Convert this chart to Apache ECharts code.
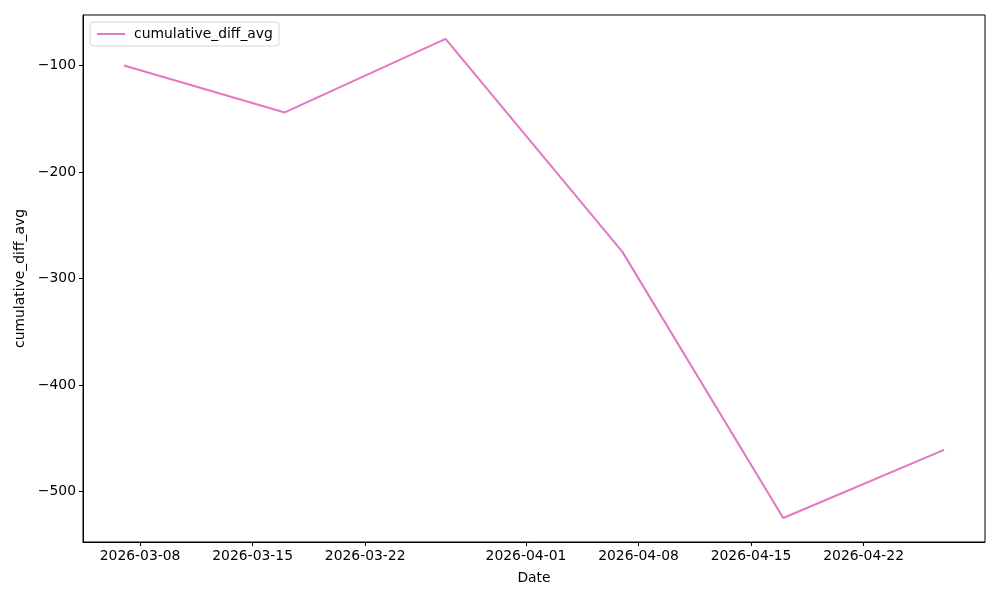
<!DOCTYPE html>
<html>
<head>
<meta charset="utf-8">
<script src="https://cdn.jsdelivr.net/npm/echarts@6/dist/echarts.min.js"></script>
<style>html,body{margin:0;padding:0;background:#fff;}#c{width:1000px;height:600px;}</style>
</head>
<body>
<div id="c"></div>
<script>
var dates = ['2026-03-07', '2026-03-17', '2026-03-27', '2026-04-07', '2026-04-17', '2026-04-27'];
var values = [-100, -144, -75, -275, -525, -461];
var xTickLabels = ['2026-03-08', '2026-03-15', '2026-03-22', '2026-04-01', '2026-04-08', '2026-04-15', '2026-04-22'];
var yTicks = [-500, -400, -300, -200, -100];

function ts(s) { var p = s.split('-'); return Date.UTC(+p[0], +p[1] - 1, +p[2]); }
function fmt(t) {
  var d = new Date(t);
  var m = d.getUTCMonth() + 1, dd = d.getUTCDate();
  return d.getUTCFullYear() + '-' + (m < 10 ? '0' : '') + m + '-' + (dd < 10 ? '0' : '') + dd;
}
var xs = dates.map(ts);
var xMin0 = Math.min.apply(null, xs), xMax0 = Math.max.apply(null, xs);
var xPad = (xMax0 - xMin0) * 0.05;
var vMin0 = Math.min.apply(null, values), vMax0 = Math.max.apply(null, values);
var yPad = (vMax0 - vMin0) * 0.05;
var xTickVals = xTickLabels.map(ts);
var font = 'DejaVu Sans';

var chart = echarts.init(document.getElementById('c'), null, {renderer: 'canvas'});
chart.setOption({
  animation: false,
  backgroundColor: '#fff',
  textStyle: {fontFamily: font},
  grid: {left: 83, right: 15, top: 15, bottom: 58, show: true, borderColor: '#000', borderWidth: 1, backgroundColor: 'transparent'},
  legend: {
    left: 90, top: 22, padding: [5, 6, 5, 7],
    borderColor: '#d6d6d6', borderWidth: 1, borderRadius: 3, backgroundColor: '#fff',
    itemWidth: 28, itemHeight: 2, itemGap: 10,
    icon: 'rect',
    itemStyle: {color: '#e377c2'},
    textStyle: {fontFamily: font, fontSize: 13.9, color: '#000', padding: [0, 0, 0, 4]},
    data: [{name: 'cumulative_diff_avg'}]
  },
  xAxis: {
    type: 'value',
    min: xMin0 - xPad, max: xMax0 + xPad,
    name: 'Date', nameLocation: 'middle', nameGap: 29,
    nameTextStyle: {fontFamily: font, fontSize: 13.9, color: '#000'},
    axisLine: {show: true, lineStyle: {color: '#000', width: 1}},
    axisTick: {show: true, length: 4, lineStyle: {color: '#000'}, customValues: xTickVals},
    axisLabel: {fontFamily: font, fontSize: 13.9, color: '#000', margin: 7, customValues: xTickVals, formatter: function (v) { return fmt(v); }},
    splitLine: {show: false}
  },
  yAxis: {
    type: 'value',
    min: vMin0 - yPad, max: vMax0 + yPad,
    name: 'cumulative_diff_avg', nameLocation: 'middle', nameGap: 51, nameRotate: 90,
    nameTextStyle: {fontFamily: font, fontSize: 13.9, color: '#000'},
    axisLine: {show: true, lineStyle: {color: '#000', width: 1}},
    axisTick: {show: true, length: 4, lineStyle: {color: '#000'}, customValues: yTicks},
    axisLabel: {fontFamily: font, fontSize: 13.9, color: '#000', margin: 7, customValues: yTicks, formatter: function (v) { return String(v).replace('-', '\u2212'); }},
    splitLine: {show: false}
  },
  series: [{
    name: 'cumulative_diff_avg',
    type: 'line',
    symbol: 'none',
    color: '#e377c2',
    lineStyle: {color: '#e377c2', width: 2},
    data: xs.map(function (x, i) { return [x, values[i]]; })
  }]
});
</script>
</body>
</html>
